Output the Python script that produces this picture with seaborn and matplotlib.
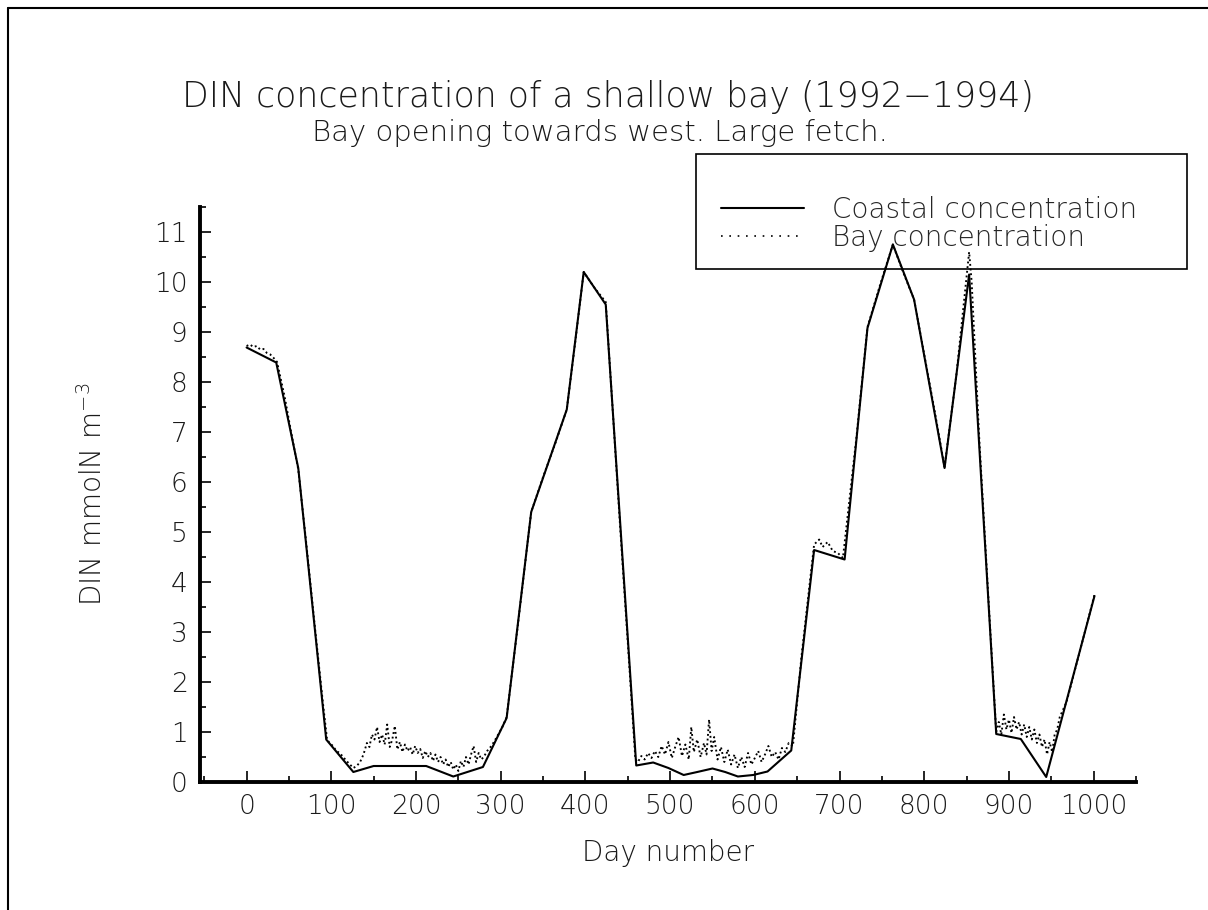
import matplotlib
matplotlib.use("Agg")
import matplotlib.pyplot as plt
from matplotlib.lines import Line2D
from matplotlib.patches import Rectangle
from matplotlib.ticker import MultipleLocator
import seaborn as sns
import pandas as pd

# ---- data ----
coastal_day = [0, 35, 61, 94, 126, 150, 212, 244, 279, 307, 336, 378, 398, 424,
               460, 480, 498, 516, 532, 550, 565, 580, 598, 615, 643, 670, 706,
               733, 763, 788, 824, 853, 885, 914, 944, 1001]
coastal_val = [8.69, 8.39, 6.28, 0.85, 0.20, 0.32, 0.32, 0.11, 0.30, 1.28, 5.40,
               7.45, 10.20, 9.55, 0.33, 0.39, 0.28, 0.14, 0.20, 0.27, 0.20, 0.11,
               0.14, 0.21, 0.63, 4.64, 4.45, 9.08, 10.75, 9.65, 6.28, 10.15, 0.96,
               0.86, 0.10, 3.72]

bay_day = [0, 4, 8, 12, 16, 20, 24, 28, 32, 36, 45, 52, 61, 70, 80, 90, 95,
           98, 102, 106, 110, 114, 118, 122, 126, 130, 134, 138, 142, 145, 148,
           151, 154, 157, 160, 163, 166, 169, 172, 175, 178, 181, 184, 187, 190,
           193, 196, 199, 202, 205, 208, 211, 214, 217, 220, 223, 226, 229, 232,
           235, 238, 241, 244, 247, 250, 253, 256, 259, 262, 265, 268, 271, 274,
           277, 280, 284, 288, 292, 297, 302, 307,
           320, 336, 350, 365, 378, 388, 398, 410, 424, 432, 441, 450, 459,
           462, 466, 470, 474, 478, 482, 486, 490, 494, 498, 502, 506, 510, 514,
           518, 522, 525, 528, 532, 536, 540, 543, 546, 549, 552, 556, 560, 564,
           568, 572, 576, 580, 584, 588, 592, 596, 600, 604, 608, 612, 616, 620,
           624, 628, 632, 636, 640, 645,
           655, 670, 676, 680, 686, 692, 698, 704, 720, 733, 748, 763, 775, 788,
           800, 812, 824, 838, 853, 856, 865, 875, 885,
           888, 891, 894, 897, 900, 903, 906, 909, 912, 915, 918, 921, 924, 927,
           930, 933, 936, 939, 942, 945, 948, 951, 954, 957, 960, 964, 968, 975,
           985, 995, 1001]
bay_val = [8.72, 8.75, 8.70, 8.72, 8.65, 8.66, 8.58, 8.55, 8.48, 8.40, 7.70,
           7.05, 6.25, 4.85, 3.20, 1.60, 0.85,
           0.78, 0.72, 0.62, 0.58, 0.50, 0.42, 0.35, 0.28, 0.32, 0.40, 0.55, 0.78,
           0.70, 0.95, 0.85, 1.10, 0.80, 0.95, 0.75, 1.15, 0.70, 0.85, 1.12, 0.65,
           0.80, 0.60, 0.75, 0.62, 0.70, 0.55, 0.72, 0.58, 0.66, 0.48, 0.62, 0.50,
           0.58, 0.42, 0.55, 0.40, 0.50, 0.35, 0.45, 0.30, 0.40, 0.25, 0.35, 0.22,
           0.42, 0.30, 0.50, 0.35, 0.55, 0.72, 0.40, 0.58, 0.45, 0.50, 0.62, 0.70,
           0.80, 0.95, 1.10, 1.30,
           3.10, 5.40, 6.10, 6.80, 7.45, 8.80, 10.20, 9.90, 9.60, 7.50, 5.10,
           2.80, 0.45,
           0.40, 0.52, 0.45, 0.58, 0.48, 0.62, 0.50, 0.72, 0.55, 0.80, 0.48, 0.70,
           0.90, 0.52, 0.75, 0.45, 1.10, 0.60, 0.85, 0.50, 0.78, 0.55, 1.25, 0.62,
           0.90, 0.45, 0.70, 0.40, 0.65, 0.35, 0.55, 0.28, 0.50, 0.30, 0.58, 0.35,
           0.48, 0.62, 0.40, 0.55, 0.72, 0.50, 0.60, 0.45, 0.68, 0.60, 0.78, 0.72,
           2.50, 4.75, 4.85, 4.70, 4.80, 4.62, 4.58, 4.48, 6.90, 9.10, 9.95,
           10.75, 10.20, 9.65, 8.55, 7.45, 6.30, 8.15, 10.60, 10.00, 6.85, 3.90,
           1.00,
           1.20, 0.95, 1.35, 1.05, 1.25, 0.98, 1.30, 1.05, 1.20, 0.95, 1.15, 0.90,
           1.10, 0.85, 1.05, 0.78, 0.95, 0.70, 0.85, 0.55, 0.80, 0.60, 0.95, 1.05,
           1.30, 1.45, 1.60, 2.05, 2.70, 3.35, 3.75]

x_major_ticks = [0, 100, 200, 300, 400, 500, 600, 700, 800, 900, 1000]
y_major_ticks = [0, 1, 2, 3, 4, 5, 6, 7, 8, 9, 10, 11]

title = "DIN concentration of a shallow bay (1992\u22121994)"
subtitle = "Bay opening towards west. Large fetch."
xlabel = "Day number"
ylabel = "DIN mmolN m$^{\\mathregular{-3}}$"
series_names = ["Coastal concentration", "Bay concentration"]

# ---- plotting ----
sns.set_theme(style="white")
plt.rcParams["font.family"] = ["DejaVu Sans"]
plt.rcParams["font.weight"] = "light"
plt.rcParams["axes.labelweight"] = "light"
plt.rcParams["mathtext.default"] = "regular"
TXT = "#1a1a1a"

W, H = 1208, 910
fig = plt.figure(figsize=(W / 100, H / 100), dpi=100)
fig.patch.set_facecolor("white")

ax = fig.add_axes([200 / W, 1 - 782 / H, 936 / W, 575 / H])
ax.set_facecolor("white")

df_c = pd.DataFrame({"day": coastal_day, "val": coastal_val})
df_b = pd.DataFrame({"day": bay_day, "val": bay_val})

BAY_LS = (0, (1, 1.5))
sns.lineplot(data=df_c, x="day", y="val", ax=ax, color="black", lw=1.5,
             label=series_names[0], estimator=None, sort=False)
sns.lineplot(data=df_b, x="day", y="val", ax=ax, color="black", lw=1.35,
             linestyle=BAY_LS, label=series_names[1], estimator=None,
             sort=False)

ax.set_xlim(-55, 1050)
ax.set_ylim(0, 11.5)
ax.set_xticks(x_major_ticks)
ax.set_yticks(y_major_ticks)
ax.xaxis.set_minor_locator(MultipleLocator(50))
ax.yaxis.set_minor_locator(MultipleLocator(0.5))

for s in ["top", "right"]:
    ax.spines[s].set_visible(False)
for s in ["left", "bottom"]:
    ax.spines[s].set_linewidth(2.8)
    ax.spines[s].set_color("black")

ax.tick_params(which="major", direction="in", length=8, width=1.2,
               color="black", labelsize=19, pad=9, labelcolor=TXT)
ax.tick_params(which="minor", direction="in", length=4.5, width=1.2,
               color="black")
ax.tick_params(axis="x", which="both", bottom=True)
ax.tick_params(axis="y", which="both", left=True)

ax.set_xlabel(xlabel, fontsize=20, labelpad=14, color=TXT, fontweight="light")
ax.set_ylabel(ylabel, fontsize=20, labelpad=33, color=TXT, fontweight="light")

fig.text(608 / W, 1 - 97 / H, title, ha="center", va="center",
         fontsize=25, color=TXT)
fig.text(600 / W, 1 - 133 / H, subtitle, ha="center", va="center",
         fontsize=21, color=TXT)

# legend frame + frameless legend
fig.add_artist(Rectangle((696 / W, 1 - 269 / H), (1187 - 696) / W,
                         (269 - 154) / H, transform=fig.transFigure,
                         fill=False, edgecolor="black", lw=1.2))
handles = [Line2D([], [], color="black", lw=1.5),
           Line2D([], [], color="black", lw=1.2, linestyle=(0, (1, 4)))]
ax.legend(handles, series_names, frameon=False, fontsize=20,
          loc="upper left", bbox_to_anchor=(707 / W, 1 - 182 / H),
          bbox_transform=fig.transFigure, handlelength=3.0,
          handletextpad=1.0, labelspacing=0.0, borderpad=0.0)

# page border lines (top and left)
fig.add_artist(Line2D([8 / W, 1], [1 - 8 / H, 1 - 8 / H],
                      transform=fig.transFigure, color="black", lw=1.5))
fig.add_artist(Line2D([8 / W, 8 / W], [0, 1 - 8 / H],
                      transform=fig.transFigure, color="black", lw=1.5))

fig.savefig("out.png", dpi=100, facecolor="white")
